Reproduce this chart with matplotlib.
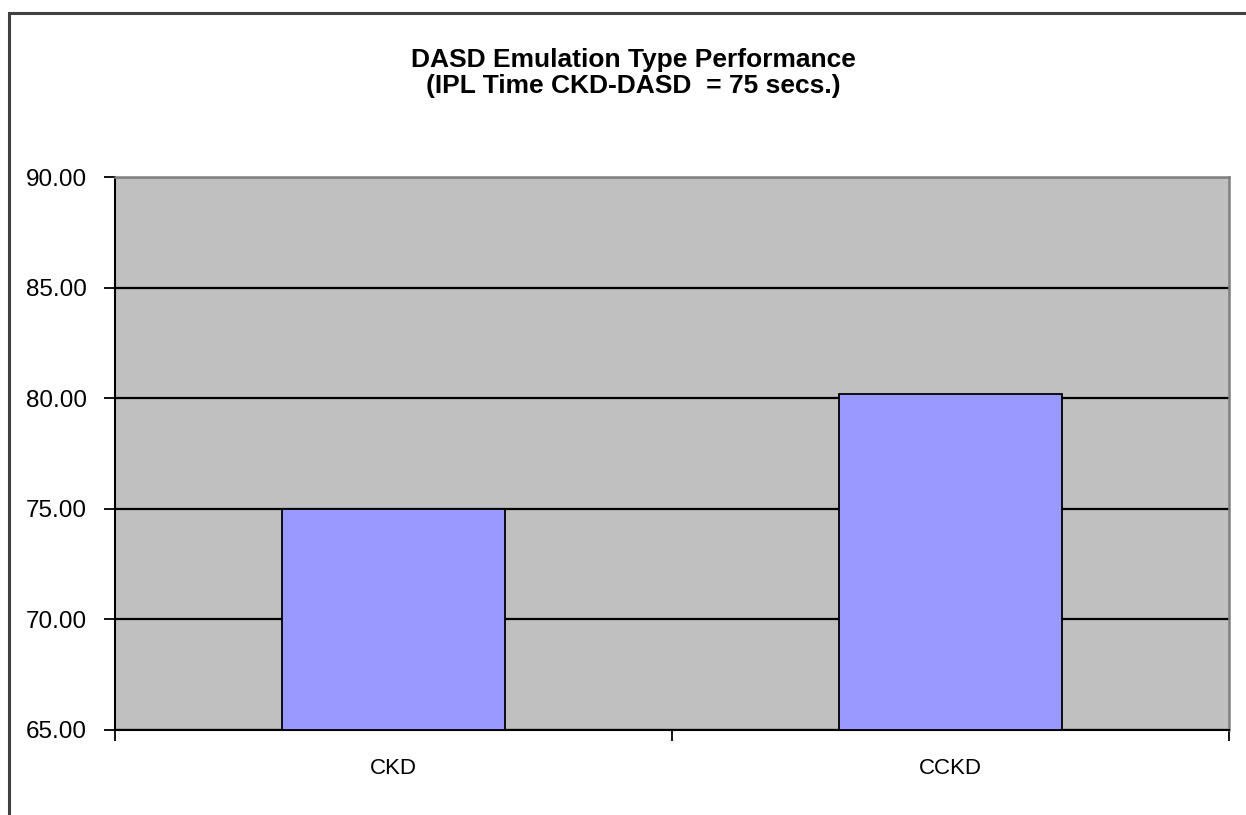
import matplotlib
matplotlib.use("Agg")
import matplotlib.pyplot as plt
from matplotlib.patches import Rectangle

categories = ["CKD", "CCKD"]
ipl_times = [75.0, 80.18]
y_ticks = [65, 70, 75, 80, 85, 90]
title = "DASD Emulation Type Performance\n(IPL Time CKD-DASD  = 75 secs.)"

plt.rcParams['font.family'] = ['Liberation Sans', 'DejaVu Sans']

W, H = 1246, 815
fig = plt.figure(figsize=(W / 100, H / 100), dpi=100)
fig.patch.set_facecolor("white")

# outer chart border (extends past right/bottom edge)
fig.patches.append(Rectangle((9 / W, -0.1), 2.0, (H - 13) / H + 0.1,
                             transform=fig.transFigure, fill=False,
                             edgecolor="#404040", linewidth=2.2))

left, right, top, bottom = 115, 1229, 177, 730
ax = fig.add_axes([left / W, (H - bottom) / H, (right - left) / W, (bottom - top) / H])
ax.set_facecolor("#C0C0C0")

x = [i + 0.5 for i in range(len(categories))]
ax.bar(x, [v - y_ticks[0] for v in ipl_times], bottom=y_ticks[0], width=0.4,
       color="#9999FF", edgecolor="black", linewidth=1.3, zorder=3)

ax.set_xlim(0, len(categories))
ax.set_ylim(y_ticks[0], y_ticks[-1])
ax.set_yticks(y_ticks)
ax.set_yticklabels([f"{t:.2f}" for t in y_ticks])
ax.yaxis.grid(True, color="black", linewidth=1.6, zorder=1)
ax.set_axisbelow(True)

ax.set_xticks(range(len(categories) + 1))
ax.set_xticklabels([])
ax.set_xticks(x, minor=True)
ax.set_xticklabels(categories, minor=True)
ax.tick_params(axis="x", which="major", direction="out", length=8, width=1.3, color="black")
ax.tick_params(axis="x", which="minor", length=0, pad=20, labelsize=16)
ax.tick_params(axis="y", direction="out", length=8, width=1.3, pad=12, labelsize=17.5)

for s in ["left", "bottom"]:
    ax.spines[s].set_color("black")
    ax.spines[s].set_linewidth(1.5)
for s in ["top", "right"]:
    ax.spines[s].set_color("#808080")
    ax.spines[s].set_linewidth(1.8)

fig.text(633 / W, 1 - 73 / H, title, ha="center", va="center",
         fontsize=19, fontweight="bold", linespacing=1.12)

fig.savefig("out.png", dpi=100)
